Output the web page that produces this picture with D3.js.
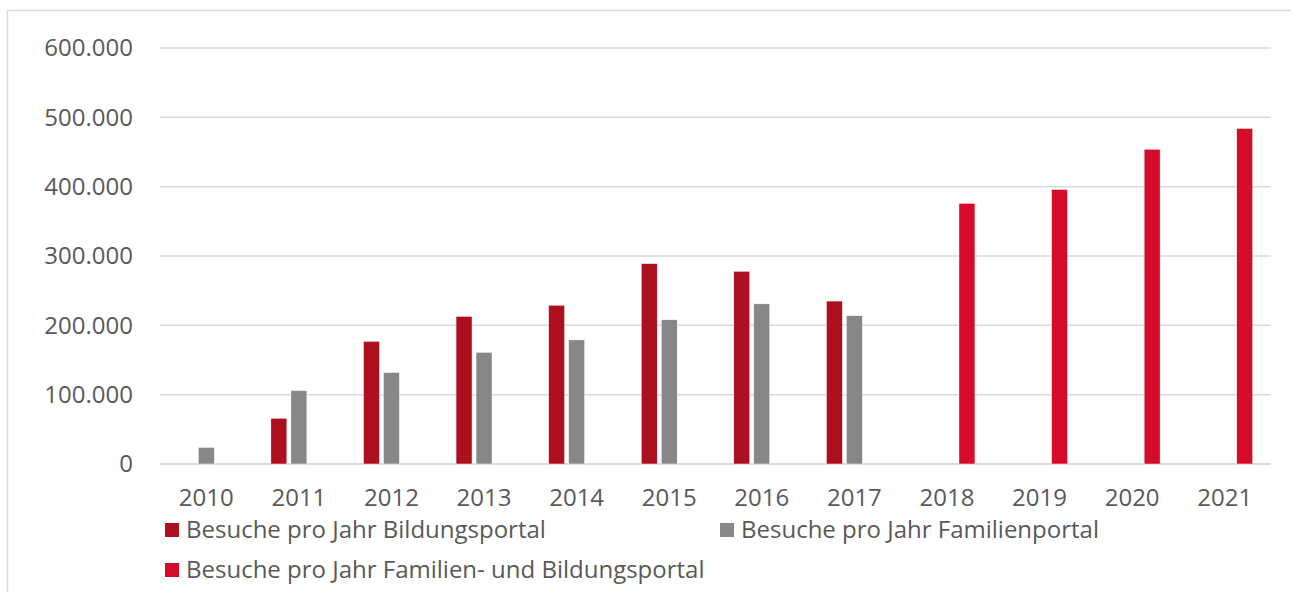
<!DOCTYPE html>
<html>
<head>
<meta charset="utf-8">
<script src="https://cdn.jsdelivr.net/npm/d3@7"></script>
<style>
  body { margin: 0; background: #fff; }
  svg { display: block; font-family: "Open Sans", sans-serif; }
  .grid line { stroke: #d9d9d9; stroke-width: 1.5; }
  .axis text, .legend text { fill: #595959; font-family: "Open Sans", sans-serif; font-size: 24px; }
</style>
</head>
<body>
<div id="chart"></div>
<script>
var years = ['2010', '2011', '2012', '2013', '2014', '2015', '2016', '2017', '2018', '2019', '2020', '2021'];
var seriesNames = ['Besuche pro Jahr Bildungsportal', 'Besuche pro Jahr Familienportal', 'Besuche pro Jahr Familien- und Bildungsportal'];
var bildung = [null, 66000, 177000, 213000, 229000, 289000, 278000, 235000, null, null, null, null];
var familie = [24000, 106000, 132000, 161000, 179000, 208000, 231000, 214000, null, null, null, null];
var beide = [null, null, null, null, null, null, null, null, 376000, 396000, 454000, 484000];
var yTicks = [0, 100000, 200000, 300000, 400000, 500000, 600000];
var colors = ['#ad0f1f', '#878787', '#d50c29'];

var _width = 1291, _height = 592;
var margin = { left: 160, right: 20, top: 48, bottom: 128 };

var svg = d3.select('#chart').append('svg')
    .attr('width', _width)
    .attr('height', _height);

// outer frame of the chart area
svg.append('rect')
    .attr('x', 7.5).attr('y', 10.5)
    .attr('width', _width).attr('height', _height)
    .attr('fill', 'none')
    .attr('stroke', '#d9d9d9')
    .attr('stroke-width', 1.5);

var x0 = d3.scaleBand()
    .domain(years)
    .range([margin.left, _width - margin.right]);

var x1 = d3.scaleBand()
    .domain(seriesNames)
    .range([-28, 28])
    .paddingInner(0.2);

var y = d3.scaleLinear()
    .domain([0, 600000])
    .range([_height - margin.bottom, margin.top]);

var fmt = function(v) {
  return d3.format(',')(v).replace(/,/g, '.');
};

// gridlines
svg.append('g')
    .attr('class', 'grid')
  .selectAll('line')
  .data(yTicks)
  .enter().append('line')
    .attr('x1', margin.left)
    .attr('x2', _width - margin.right)
    .attr('y1', function(d) { return y(d); })
    .attr('y2', function(d) { return y(d); })
    .style('stroke-width', function(d) { return d === 0 ? 2 : 1.5; });

// y labels
var yAxis = svg.append('g')
    .attr('class', 'axis')
    .attr('transform', 'translate(' + margin.left + ',0)')
    .call(d3.axisLeft(y).tickValues(yTicks).tickFormat(fmt).tickSize(0).tickPadding(27));
yAxis.select('.domain').remove();
yAxis.attr('font-family', null).attr('font-size', null);

// x labels
var xAxis = svg.append('g')
    .attr('class', 'axis')
    .attr('transform', 'translate(0,' + y(0) + ')')
    .call(d3.axisBottom(x0).tickSize(0).tickPadding(25));
xAxis.select('.domain').remove();
xAxis.attr('font-family', null).attr('font-size', null);

// bars
var seriesData = [bildung, familie, beide];
var rows = [];
seriesData.forEach(function(vals, s) {
  vals.forEach(function(v, i) {
    if (v !== null) rows.push({ series: s, year: years[i], value: v });
  });
});

svg.append('g')
    .attr('class', 'bars')
  .selectAll('rect')
  .data(rows)
  .enter().append('rect')
    .attr('x', function(d) { return x0(d.year) + x0.bandwidth() / 2 + x1(seriesNames[d.series]); })
    .attr('y', function(d) { return y(d.value); })
    .attr('width', x1.bandwidth())
    .attr('height', function(d) { return y(0) - y(d.value); })
    .attr('fill', function(d) { return colors[d.series]; })
    .attr('stroke', '#fff')
    .attr('stroke-width', 0.5);

// legend
var legendPos = [[165, 530], [720, 530], [165, 570]];
var legend = svg.append('g')
    .attr('class', 'legend')
  .selectAll('g')
  .data(seriesNames)
  .enter().append('g')
    .attr('transform', function(d, i) { return 'translate(' + legendPos[i][0] + ',' + legendPos[i][1] + ')'; });

legend.append('rect')
    .attr('x', 0).attr('y', -7)
    .attr('width', 14).attr('height', 14)
    .attr('fill', function(d, i) { return colors[i]; });

legend.append('text')
    .attr('x', 21)
    .attr('y', 0)
    .attr('dy', '0.35em')
    .text(function(d) { return d; });
</script>
</body>
</html>
